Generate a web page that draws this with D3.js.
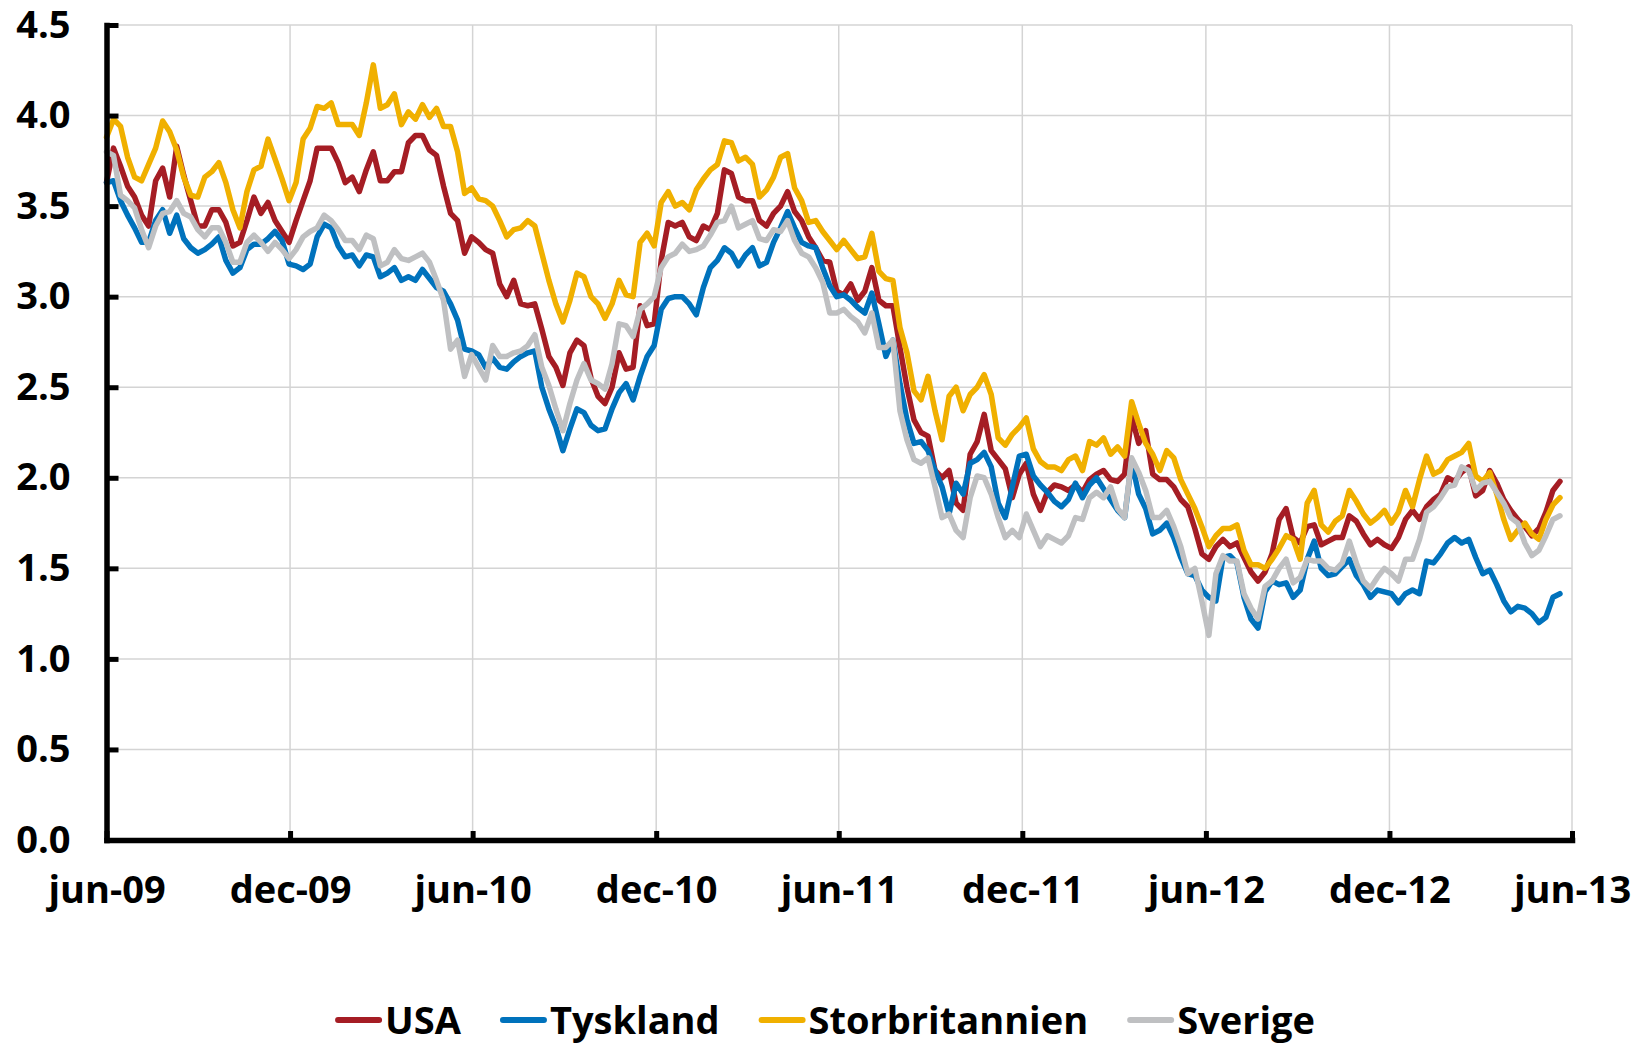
<!DOCTYPE html>
<html><head><meta charset="utf-8">
<script src="https://cdn.jsdelivr.net/npm/d3@7"></script>
<style>
body{margin:0;background:#fff}
svg{display:block}
text{font-family:"Open Sans","Noto Sans",sans-serif;font-weight:700;fill:#000}
</style>
</head><body>
<svg id="chart" width="1650" height="1044"></svg>
<script>
// ---------- DATA ----------
const seriesNames = ["USA", "Tyskland", "Storbritannien", "Sverige"];
const startDate = "2009-06-01";   // first observation
const stepDays = 7;               // weekly observations

const usa = [
3.63,3.82,3.72,3.61,3.55,3.45,3.39,3.64,3.71,3.55,
3.83,3.67,3.53,3.39,3.39,3.48,3.48,3.41,3.28,3.30,
3.42,3.55,3.46,3.52,3.42,3.36,3.30,3.42,3.53,3.64,
3.82,3.82,3.82,3.74,3.63,3.66,3.58,3.70,3.80,3.64,
3.64,3.69,3.69,3.85,3.89,3.89,3.81,3.78,3.61,3.46,
3.42,3.24,3.33,3.30,3.26,3.24,3.07,3.00,3.09,2.96,
2.95,2.96,2.82,2.67,2.61,2.51,2.69,2.76,2.73,2.55,
2.45,2.41,2.50,2.69,2.60,2.61,2.95,2.84,2.85,3.20,
3.41,3.39,3.41,3.33,3.31,3.39,3.37,3.46,3.70,3.68,
3.55,3.53,3.53,3.42,3.39,3.46,3.50,3.58,3.47,3.42,
3.33,3.27,3.20,3.19,3.03,3.01,3.07,2.98,3.03,3.16,
2.98,2.95,2.95,2.72,2.50,2.32,2.25,2.23,2.04,2.00,
2.04,1.86,1.82,2.13,2.20,2.35,2.15,2.10,2.05,1.89,
2.02,2.08,1.91,1.82,1.92,1.96,1.95,1.93,1.96,1.92,
1.99,2.02,2.04,1.99,1.98,2.02,2.34,2.19,2.26,2.02,
1.99,1.99,1.95,1.88,1.84,1.72,1.58,1.55,1.62,1.66,
1.62,1.64,1.56,1.48,1.43,1.48,1.58,1.77,1.83,1.67,
1.64,1.73,1.74,1.63,1.65,1.67,1.67,1.79,1.76,1.69,
1.63,1.66,1.63,1.61,1.67,1.77,1.82,1.77,1.84,1.88,
1.91,2.00,1.98,2.03,2.06,1.90,1.93,2.04,1.97,1.88,
1.82,1.77,1.73,1.68,1.72,1.81,1.93,1.98];

const tyskland = [
3.63,3.64,3.53,3.45,3.38,3.30,3.30,3.42,3.48,3.35,
3.45,3.32,3.27,3.24,3.26,3.29,3.33,3.20,3.13,3.16,
3.26,3.29,3.29,3.32,3.36,3.31,3.18,3.17,3.15,3.18,
3.33,3.40,3.38,3.28,3.22,3.23,3.17,3.23,3.22,3.11,
3.13,3.16,3.09,3.11,3.09,3.15,3.10,3.05,3.03,2.96,
2.87,2.71,2.70,2.68,2.61,2.66,2.61,2.60,2.64,2.67,
2.69,2.70,2.50,2.38,2.28,2.15,2.27,2.38,2.36,2.29,
2.26,2.27,2.38,2.47,2.52,2.43,2.56,2.67,2.73,2.93,
2.99,3.00,3.00,2.96,2.90,3.05,3.16,3.20,3.27,3.24,
3.17,3.23,3.27,3.17,3.19,3.30,3.38,3.47,3.38,3.30,
3.28,3.27,3.16,3.06,3.00,3.01,2.98,2.94,2.91,3.02,
2.85,2.67,2.76,2.52,2.32,2.19,2.20,2.15,2.04,1.95,
1.80,1.97,1.91,2.08,2.10,2.14,2.06,1.86,1.78,1.95,
2.12,2.13,2.01,1.96,1.92,1.87,1.84,1.88,1.97,1.89,
1.96,2.00,1.94,1.88,1.82,1.78,2.09,1.91,1.83,1.69,
1.71,1.75,1.67,1.56,1.47,1.46,1.38,1.34,1.32,1.56,
1.57,1.53,1.34,1.22,1.17,1.37,1.43,1.41,1.42,1.34,
1.38,1.55,1.65,1.50,1.46,1.47,1.51,1.55,1.46,1.41,
1.34,1.38,1.37,1.36,1.31,1.36,1.38,1.36,1.54,1.53,
1.58,1.64,1.67,1.64,1.66,1.56,1.47,1.49,1.41,1.32,
1.26,1.29,1.28,1.25,1.20,1.23,1.34,1.36];

const storbritannien = [
3.88,3.98,3.94,3.77,3.66,3.64,3.73,3.82,3.97,3.91,
3.81,3.66,3.56,3.55,3.66,3.69,3.74,3.63,3.48,3.38,
3.58,3.70,3.72,3.87,3.76,3.65,3.53,3.63,3.87,3.93,
4.05,4.04,4.07,3.95,3.95,3.95,3.89,4.07,4.28,4.04,
4.06,4.12,3.95,4.02,3.98,4.06,3.99,4.04,3.94,3.94,
3.80,3.57,3.60,3.54,3.53,3.50,3.42,3.33,3.37,3.38,
3.42,3.39,3.24,3.09,2.96,2.86,2.98,3.13,3.11,3.00,
2.96,2.88,2.96,3.09,3.01,3.00,3.30,3.35,3.28,3.52,
3.58,3.50,3.52,3.48,3.59,3.65,3.70,3.73,3.86,3.85,
3.75,3.77,3.73,3.55,3.59,3.66,3.77,3.79,3.60,3.53,
3.41,3.42,3.36,3.31,3.26,3.31,3.26,3.21,3.22,3.35,
3.14,3.10,3.09,2.83,2.69,2.48,2.43,2.56,2.37,2.21,
2.45,2.50,2.37,2.46,2.50,2.57,2.46,2.22,2.18,2.24,
2.28,2.33,2.16,2.09,2.06,2.06,2.04,2.10,2.12,2.04,
2.20,2.18,2.22,2.13,2.17,2.12,2.42,2.30,2.19,2.13,
2.04,2.15,2.11,1.99,1.91,1.83,1.73,1.62,1.68,1.72,
1.72,1.74,1.60,1.52,1.52,1.50,1.55,1.61,1.68,1.66,
1.55,1.86,1.93,1.74,1.70,1.76,1.79,1.93,1.87,1.80,
1.75,1.78,1.82,1.75,1.81,1.93,1.84,1.99,2.12,2.02,
2.04,2.10,2.12,2.14,2.19,2.01,1.98,2.03,1.91,1.77,
1.66,1.71,1.75,1.69,1.66,1.77,1.85,1.89];

const sverige = [
3.80,3.78,3.56,3.53,3.49,3.37,3.27,3.39,3.46,3.47,
3.53,3.46,3.44,3.37,3.33,3.38,3.38,3.30,3.19,3.19,
3.30,3.34,3.30,3.25,3.30,3.26,3.21,3.26,3.33,3.36,
3.38,3.45,3.42,3.37,3.31,3.31,3.26,3.34,3.32,3.17,
3.19,3.26,3.21,3.20,3.22,3.24,3.19,3.09,2.98,2.71,
2.76,2.56,2.68,2.61,2.54,2.73,2.67,2.67,2.69,2.70,
2.73,2.79,2.61,2.51,2.38,2.26,2.41,2.54,2.63,2.54,
2.52,2.49,2.63,2.85,2.84,2.78,2.93,2.96,3.00,3.16,
3.22,3.24,3.29,3.25,3.26,3.28,3.34,3.41,3.42,3.50,
3.38,3.40,3.42,3.32,3.31,3.37,3.36,3.42,3.31,3.24,
3.22,3.16,3.08,2.91,2.91,2.93,2.89,2.86,2.80,2.91,
2.72,2.72,2.76,2.37,2.21,2.10,2.08,2.11,1.95,1.78,
1.80,1.71,1.67,1.89,2.01,2.00,1.91,1.78,1.67,1.71,
1.67,1.80,1.71,1.62,1.68,1.66,1.64,1.68,1.78,1.77,
1.89,1.92,1.89,1.95,1.83,1.78,2.11,2.03,1.93,1.78,
1.78,1.82,1.73,1.62,1.47,1.50,1.32,1.13,1.47,1.57,
1.54,1.54,1.36,1.28,1.22,1.40,1.43,1.50,1.55,1.42,
1.45,1.55,1.54,1.54,1.50,1.49,1.53,1.65,1.53,1.43,
1.39,1.45,1.50,1.47,1.43,1.55,1.55,1.66,1.81,1.84,
1.89,1.95,1.96,2.06,2.04,1.93,1.97,1.98,1.92,1.86,
1.78,1.75,1.64,1.57,1.60,1.68,1.77,1.79];

const yTickValues = [0, 0.5, 1, 1.5, 2, 2.5, 3, 3.5, 4, 4.5];
const xTickDates = ["2009-06-01","2009-12-01","2010-06-01","2010-12-01","2011-06-01",
                    "2011-12-01","2012-06-01","2012-12-01","2013-06-01"];
const xTickLabels = ["jun-09","dec-09","jun-10","dec-10","jun-11",
                     "dec-11","jun-12","dec-12","jun-13"];

// ---------- STYLE ----------
const colors = ["#a51d24", "#0072bc", "#f0b000", "#bfc0c2"];
const W = 1650, H = 1044;
const plot = {left: 106.5, right: 1572, top: 25, bottom: 840};
const fontSize = 38;

const svg = d3.select("#chart");
svg.append("rect").attr("width", W).attr("height", H).attr("fill", "#fff");

const parse = d3.utcParse("%Y-%m-%d");
const t0 = parse(startDate);
const x = d3.scaleUtc()
  .domain([parse(xTickDates[0]), parse(xTickDates[xTickDates.length - 1])])
  .range([plot.left, plot.right]);
const y = d3.scaleLinear().domain([0, 4.5]).range([plot.bottom, plot.top]);

// gridlines
const grid = svg.append("g");
grid.selectAll("line.h").data(yTickValues.filter(v => v > 0)).join("line")
  .attr("x1", plot.left).attr("x2", plot.right)
  .attr("y1", d => y(d)).attr("y2", d => y(d))
  .attr("stroke", "#d4d4d4").attr("stroke-width", 1.5);
grid.selectAll("line.v").data(xTickDates.slice(1)).join("line")
  .attr("x1", d => x(parse(d))).attr("x2", d => x(parse(d)))
  .attr("y1", plot.top).attr("y2", plot.bottom)
  .attr("stroke", "#d4d4d4").attr("stroke-width", 1.5);

// series
const allSeries = [usa, tyskland, storbritannien, sverige];
const line = d3.line()
  .x((d, i) => x(d3.utcDay.offset(t0, i * stepDays)))
  .y(d => y(d));
svg.append("g").selectAll("path").data(allSeries).join("path")
  .attr("d", d => line(d))
  .attr("fill", "none")
  .attr("stroke", (d, i) => colors[i])
  .attr("stroke-width", 5.5)
  .attr("stroke-linejoin", "round")
  .attr("stroke-linecap", "round");

// y axis
const yAxis = svg.append("g").attr("transform", `translate(${plot.left},0)`)
  .call(d3.axisLeft(y).tickValues(yTickValues).tickFormat(d3.format(".1f"))
    .tickSize(-12).tickSizeOuter(0).tickPadding(36));
// x axis
const xAxis = svg.append("g").attr("transform", `translate(0,${plot.bottom})`)
  .call(d3.axisBottom(x).tickValues(xTickDates.map(parse))
    .tickFormat((d, i) => xTickLabels[i])
    .tickSize(-9).tickSizeOuter(0).tickPadding(36));

[yAxis, xAxis].forEach(a => {
  a.select(".domain").attr("stroke", "#000").attr("stroke-width", 5.5)
    .attr("stroke-linecap", "square");
  a.selectAll(".tick line").attr("stroke", "#000").attr("stroke-width", 5);
  a.selectAll(".tick text").attr("font-size", fontSize)
    .attr("font-family", null).attr("fill", "#000");
});

// legend
const legend = svg.append("g");
let cx = 0;
const lineLen = 47, gapText = 3, gapItem = 39, legendY = 1020;
seriesNames.forEach((name, i) => {
  const g = legend.append("g");
  g.append("line").attr("x1", cx + 3).attr("x2", cx + lineLen - 3)
    .attr("y1", legendY).attr("y2", legendY)
    .attr("stroke", colors[i]).attr("stroke-width", 6).attr("stroke-linecap", "round");
  const t = g.append("text").attr("x", cx + lineLen + gapText).attr("y", legendY + 14)
    .attr("font-size", fontSize).text(name);
  cx += lineLen + gapText + t.node().getComputedTextLength() + gapItem;
});
const totalW = cx - gapItem;
legend.attr("transform", `translate(${(W - totalW) / 2},0)`);
</script>
</body></html>
